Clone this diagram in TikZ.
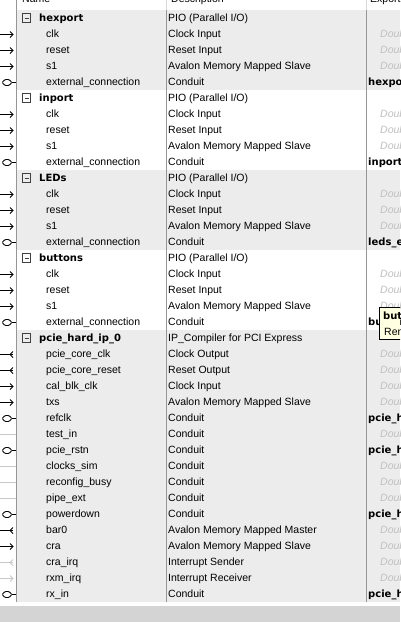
\documentclass[tikz,border=0pt]{standalone}
\usepackage{fontspec}
\setmainfont{Liberation Sans}
\newfontfamily\dvs{DejaVu Sans}
\definecolor{band}{RGB}{236,236,236}
\definecolor{bottomgray}{RGB}{212,212,212}
\definecolor{divgray}{RGB}{150,150,150}
\definecolor{hdrgray}{RGB}{215,215,215}
\definecolor{dblgray}{RGB}{192,192,192}
\definecolor{faintgray}{RGB}{200,200,200}
\definecolor{tipfill}{RGB}{255,255,225}
\tikzset{
  rowtxt/.style={anchor=base west, inner sep=0pt, font=\fontsize{10.5}{12}\selectfont, text=black},
  headtxt/.style={anchor=base west, inner sep=0pt, font=\dvs\bfseries\fontsize{10}{12}\selectfont, text=black},
  dbltxt/.style={anchor=base west, inner sep=0pt, font=\itshape\fontsize{10.5}{12}\selectfont, text=dblgray},
  divider/.style={draw=divgray, line width=1pt},
  hdrdiv/.style={draw=hdrgray, line width=1pt},
  glyph/.style={draw=black, line width=0.9pt},
  faint/.style={draw=faintgray, line width=0.9pt},
  boxst/.style={draw=black!75, line width=0.8pt},
  tipbox/.style={fill=tipfill, draw=black, line width=0.8pt}
}
\begin{document}
\begin{tikzpicture}[x=1pt,y=-1pt]
\useasboundingbox (0,0) rectangle (400,622);
\clip (0,0) rectangle (400,622);
\fill[white] (0,0) rectangle (400,622);
% row bands
\fill[band] (17,10) rectangle (400,90);
\fill[band] (17,170) rectangle (400,250);
\fill[band] (17,330) rectangle (400,602);
\fill[bottomgray] (0,606) rectangle (400,622);
% column dividers
\draw[hdrdiv] (166.5,0) -- (166.5,9.5);
\draw[hdrdiv] (366.5,0) -- (366.5,9.5);
\draw[divider] (16.5,0) -- (16.5,602);
\draw[divider] (166.5,9.5) -- (166.5,602);
\draw[divider] (366.5,9.5) -- (366.5,602);
% header texts (mostly cut off at top)
\node[rowtxt] (hname) at (22,2.5) {Name};
\node[rowtxt] (hdesc) at (171,2.5) {Description};
\node[rowtxt] (hexp) at (370,2.5) {Export};
% component heads
\foreach \i/\nm/\ds in {0/hexport/{PIO (Parallel I/O)},5/inport/{PIO (Parallel I/O)},10/LEDs/{PIO (Parallel I/O)},15/buttons/{PIO (Parallel I/O)},20/pcie\_hard\_ip\_0/{IP\_Compiler for PCI Express}}{
  \pgfmathsetmacro\yy{18+16*\i}
  \draw[boxst] (22.5,\yy-4.5) rectangle (30.5,\yy+4.5);
  \draw[boxst] (24.5,\yy) -- (28.5,\yy);
  \node[headtxt] (h\i) at (39,\yy+3.7) {\nm};
  \node[rowtxt] (hd\i) at (168,\yy+3.7) {\ds};
}
% interfaces
\foreach \i/\nm/\ds in {1/clk/Clock Input,2/reset/Reset Input,3/s1/Avalon Memory Mapped Slave,4/external\_connection/Conduit,
  6/clk/Clock Input,7/reset/Reset Input,8/s1/Avalon Memory Mapped Slave,9/external\_connection/Conduit,
  11/clk/Clock Input,12/reset/Reset Input,13/s1/Avalon Memory Mapped Slave,14/external\_connection/Conduit,
  16/clk/Clock Input,17/reset/Reset Input,18/s1/Avalon Memory Mapped Slave,19/external\_connection/Conduit,
  21/pcie\_core\_clk/Clock Output,22/pcie\_core\_reset/Reset Output,23/cal\_blk\_clk/Clock Input,24/txs/Avalon Memory Mapped Slave,
  25/refclk/Conduit,26/test\_in/Conduit,27/pcie\_rstn/Conduit,28/clocks\_sim/Conduit,29/reconfig\_busy/Conduit,30/pipe\_ext/Conduit,
  31/powerdown/Conduit,32/bar0/Avalon Memory Mapped Master,33/cra/Avalon Memory Mapped Slave,34/cra\_irq/Interrupt Sender,
  35/rxm\_irq/Interrupt Receiver,36/rx\_in/Conduit}{
  \pgfmathsetmacro\yy{18+16*\i}
  \node[rowtxt] (n\i) at (46,\yy+3.7) {\nm};
  \node[rowtxt] (d\i) at (168,\yy+3.7) {\ds};
}
% connection glyphs: inputs
\foreach \i in {1,2,3,6,7,8,11,12,13,16,17,18,23,24,33}{
  \pgfmathsetmacro\yy{18.5+16*\i}
  \draw[glyph] (0,\yy) -- (13,\yy);
  \draw[glyph] (10,\yy-3) -- (13,\yy) -- (10,\yy+3);
}
% outputs
\foreach \i in {21,22,32}{
  \pgfmathsetmacro\yy{18.5+16*\i}
  \draw[glyph] (0,\yy) -- (13,\yy);
  \draw[glyph] (13,\yy-3) -- (10,\yy) -- (13,\yy+3);
}
% conduits
\foreach \i in {4,9,14,19,25,27,31,36}{
  \pgfmathsetmacro\yy{18.5+16*\i}
  \draw[glyph, rounded corners=1pt] (2,\yy) -- (5,\yy-3) -- (9,\yy-3) -- (12,\yy) -- (9,\yy+3) -- (5,\yy+3) -- cycle;
  \draw[glyph] (12,\yy) -- (16,\yy);
}
% unconnected (faint)
\foreach \i in {26,28,29,30}{
  \pgfmathsetmacro\yy{18.5+16*\i}
  \draw[faint] (0,\yy) -- (16,\yy);
}
\draw[faint] (0,562.5) -- (13,562.5);
\draw[faint] (13,559.5) -- (10,562.5) -- (13,565.5);
\draw[faint] (0,578.5) -- (13,578.5);
\draw[faint] (10,575.5) -- (13,578.5) -- (10,581.5);
% export column: not exported
\foreach \i in {1,2,3,6,7,8,11,12,13,16,17,18,21,22,23,24,26,28,29,30,32,33,34,35}{
  \pgfmathsetmacro\yy{18+16*\i}
  \node[dbltxt] (e\i) at (380,\yy+3.7) {Double-click to export};
}
% export column: exported names
\foreach \i/\ex in {4/hexport\_external\_connection,9/inport\_external\_connection,14/leds\_external\_connection,
  19/buttons\_external\_connection,25/pcie\_hard\_ip\_0\_refclk,27/pcie\_hard\_ip\_0\_pcie\_rstn,
  31/pcie\_hard\_ip\_0\_powerdown,36/pcie\_hard\_ip\_0\_rx\_in}{
  \pgfmathsetmacro\yy{18+16*\i}
  \node[headtxt] (e\i) at (368,\yy+3.7) {\ex};
}
% tooltip
\fill[tipfill] (379.5,307.5) rectangle (402,339.5);
\draw[tipbox] (379.5,307.5) rectangle (402,339.5);
\node[headtxt] (tip1) at (383,319.5) {buttons\_external\_connection};
\node[rowtxt] (tip2) at (384,335) {Rename};
\end{tikzpicture}
\end{document}
